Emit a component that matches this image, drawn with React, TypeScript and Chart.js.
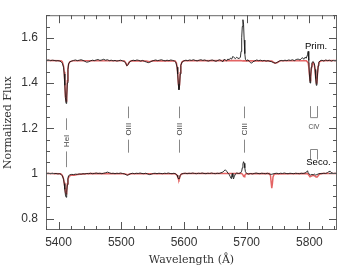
import React, { useEffect, useRef } from "react";
import { Chart, registerables } from "chart.js";
Chart.register(...registerables);

const xTickValues = [5400, 5500, 5600, 5700, 5800];
const yTickValues = [0.8, 1, 1.2, 1.4, 1.6];

const primObs: [number, number][] = [
  [5380,1.500],[5384,1.502],[5387,1.499],[5390,1.501],[5393,1.500],[5396,1.498],[5399,1.499],[5402,1.497],[5404,1.494],[5406,1.488],[5408,1.470],[5409,1.440],[5410,1.390],[5411,1.335],[5412,1.310],[5413,1.330],[5414,1.400],[5415,1.460],[5416,1.485],[5418,1.494],[5421,1.497],[5424,1.500],[5427,1.502],[5430,1.499],[5433,1.501],[5436,1.503],[5439,1.500],[5442,1.496],[5445,1.492],[5448,1.494],[5451,1.498],[5454,1.501],[5457,1.499],[5460,1.502],[5463,1.504],[5466,1.500],[5469,1.502],[5472,1.505],[5475,1.501],[5478,1.503],[5481,1.499],[5484,1.501],[5487,1.498],[5490,1.500],[5493,1.497],[5496,1.499],[5499,1.501],[5502,1.498],[5505,1.495],[5507,1.488],[5509,1.476],[5511,1.482],[5513,1.493],[5516,1.498],[5519,1.501],[5522,1.499],[5525,1.502],[5528,1.500],[5531,1.497],[5534,1.500],[5537,1.496],[5540,1.493],[5543,1.490],[5546,1.493],[5549,1.497],[5552,1.500],[5555,1.502],[5558,1.499],[5561,1.501],[5564,1.503],[5567,1.500],[5570,1.498],[5573,1.501],[5576,1.499],[5579,1.502],[5582,1.500],[5585,1.497],[5587,1.492],[5589,1.470],[5590,1.440],[5591,1.395],[5592,1.370],[5593,1.390],[5594,1.440],[5595,1.478],[5597,1.493],[5600,1.498],[5603,1.501],[5606,1.499],[5609,1.502],[5612,1.500],[5615,1.503],[5618,1.500],[5621,1.498],[5624,1.501],[5627,1.503],[5630,1.500],[5633,1.502],[5636,1.499],[5639,1.497],[5642,1.500],[5645,1.502],[5648,1.499],[5651,1.496],[5654,1.500],[5657,1.503],[5660,1.498],[5662,1.494],[5664,1.505],[5666,1.502],[5668,1.498],[5670,1.506],[5672,1.503],[5674,1.510],[5676,1.506],[5678,1.518],[5680,1.512],[5682,1.508],[5684,1.514],[5686,1.510],[5688,1.508],[5690,1.515],[5691,1.540],[5692,1.600],[5693,1.650],[5694,1.680],[5695,1.660],[5696,1.590],[5697,1.530],[5698,1.505],[5700,1.498],[5702,1.503],[5704,1.496],[5706,1.490],[5708,1.488],[5710,1.494],[5713,1.498],[5716,1.502],[5719,1.499],[5722,1.501],[5725,1.498],[5728,1.500],[5731,1.497],[5734,1.499],[5737,1.496],[5740,1.494],[5743,1.490],[5746,1.488],[5749,1.492],[5752,1.497],[5755,1.500],[5758,1.498],[5761,1.501],[5764,1.499],[5767,1.502],[5770,1.500],[5773,1.503],[5776,1.499],[5779,1.504],[5782,1.506],[5785,1.502],[5787,1.508],[5789,1.512],[5791,1.505],[5793,1.514],[5795,1.510],[5797,1.525],[5798,1.540],[5799,1.500],[5800,1.440],[5801,1.400],[5802,1.430],[5803,1.470],[5804,1.490],[5806,1.495],[5808,1.485],[5809,1.460],[5810,1.420],[5811,1.390],[5812,1.400],[5813,1.440],[5814,1.475],[5815,1.492],[5817,1.498],[5820,1.501],[5823,1.497],[5826,1.502],[5829,1.499],[5832,1.501],[5835,1.497],[5838,1.500],[5841,1.498],[5844,1.500]
];

const primModel: [number, number][] = [
  [5380,1.500],[5404,1.499],[5406,1.494],[5408,1.475],[5409,1.450],[5410,1.400],[5411,1.340],[5412,1.320],[5413,1.345],[5414,1.410],[5415,1.460],[5416,1.482],[5418,1.494],[5422,1.498],[5440,1.499],[5505,1.498],[5507,1.490],[5509,1.478],[5511,1.484],[5513,1.494],[5516,1.499],[5540,1.497],[5545,1.494],[5550,1.498],[5586,1.497],[5588,1.488],[5589,1.470],[5590,1.440],[5591,1.400],[5592,1.375],[5593,1.395],[5594,1.445],[5595,1.480],[5597,1.494],[5600,1.499],[5690,1.500],[5694,1.498],[5700,1.499],[5740,1.497],[5745,1.488],[5749,1.491],[5753,1.498],[5795,1.499],[5798,1.490],[5799,1.470],[5800,1.440],[5801,1.410],[5802,1.425],[5803,1.460],[5805,1.488],[5806,1.490],[5808,1.478],[5809,1.455],[5810,1.425],[5811,1.400],[5812,1.405],[5813,1.445],[5814,1.475],[5816,1.494],[5820,1.499],[5844,1.500]
];

const secoObs: [number, number][] = [
  [5380,1.000],[5384,1.001],[5387,0.999],[5390,1.001],[5393,0.999],[5396,1.000],[5399,0.998],[5402,0.999],[5404,0.996],[5406,0.990],[5408,0.975],[5409,0.955],[5410,0.930],[5411,0.905],[5412,0.895],[5413,0.915],[5414,0.950],[5415,0.978],[5416,0.990],[5418,0.994],[5421,0.996],[5424,0.995],[5427,0.997],[5430,0.996],[5433,0.998],[5436,0.997],[5439,0.999],[5442,0.998],[5445,1.000],[5448,0.999],[5451,1.001],[5454,0.999],[5457,1.000],[5460,1.002],[5463,1.000],[5466,1.001],[5469,0.999],[5472,1.001],[5475,1.003],[5478,1.006],[5481,1.003],[5484,1.000],[5487,1.001],[5490,0.999],[5493,1.001],[5496,1.000],[5499,1.002],[5502,1.000],[5505,0.998],[5508,0.994],[5510,0.992],[5512,0.995],[5515,0.999],[5518,1.001],[5521,0.999],[5524,1.001],[5527,1.000],[5530,1.002],[5533,1.000],[5536,0.999],[5539,1.001],[5542,0.998],[5545,0.995],[5548,0.997],[5551,1.000],[5554,1.001],[5557,0.999],[5560,1.001],[5563,1.000],[5566,0.999],[5569,1.001],[5572,1.000],[5575,1.002],[5578,1.000],[5581,0.999],[5584,1.001],[5587,0.998],[5589,0.992],[5590,0.985],[5591,0.978],[5592,0.976],[5593,0.982],[5594,0.992],[5596,0.998],[5599,1.000],[5602,1.001],[5605,0.999],[5608,1.001],[5611,1.000],[5614,1.002],[5617,1.000],[5620,0.999],[5623,1.001],[5626,1.000],[5629,1.002],[5632,1.000],[5635,0.999],[5638,1.001],[5641,1.000],[5644,1.002],[5647,1.000],[5650,0.999],[5653,1.001],[5656,1.000],[5659,1.003],[5662,1.006],[5664,1.012],[5666,1.016],[5668,1.010],[5670,1.002],[5672,0.996],[5674,0.985],[5675,0.978],[5676,0.990],[5677,1.000],[5678,0.985],[5679,0.976],[5680,0.985],[5682,0.998],[5684,1.002],[5687,1.000],[5690,1.002],[5692,1.010],[5693,1.025],[5694,1.042],[5695,1.052],[5696,1.045],[5697,1.025],[5698,1.008],[5700,1.000],[5703,0.997],[5706,1.000],[5709,0.998],[5712,1.000],[5715,1.002],[5718,1.000],[5721,0.999],[5724,1.001],[5727,1.000],[5730,0.999],[5733,1.001],[5736,0.998],[5739,0.996],[5742,0.998],[5745,1.000],[5748,1.001],[5751,0.999],[5754,1.001],[5757,1.000],[5760,1.002],[5763,1.000],[5766,0.999],[5769,1.001],[5772,1.000],[5775,0.999],[5778,1.001],[5781,1.000],[5784,0.999],[5787,1.001],[5790,1.000],[5793,1.002],[5795,1.005],[5797,1.012],[5798,1.004],[5800,0.996],[5802,0.993],[5804,0.996],[5806,0.994],[5808,0.997],[5810,0.993],[5812,0.995],[5814,0.998],[5817,1.000],[5820,0.999],[5823,1.001],[5826,1.000],[5829,1.004],[5831,1.008],[5833,1.010],[5835,1.004],[5838,1.000],[5841,1.001],[5844,1.000]
];

const secoModel: [number, number][] = [
  [5380,1.000],[5403,0.999],[5405,0.995],[5407,0.985],[5408,0.975],[5409,0.960],[5410,0.940],[5411,0.918],[5412,0.910],[5413,0.925],[5414,0.955],[5415,0.975],[5417,0.988],[5420,0.992],[5425,0.992],[5430,0.995],[5440,0.998],[5450,1.000],[5505,0.999],[5510,0.995],[5515,0.999],[5586,0.999],[5589,0.992],[5590,0.984],[5591,0.976],[5592,0.972],[5593,0.980],[5594,0.990],[5596,0.998],[5600,1.000],[5692,1.000],[5694,0.994],[5695,0.988],[5696,0.986],[5697,0.992],[5699,0.999],[5736,1.000],[5738,0.990],[5739,0.960],[5740,0.935],[5741,0.955],[5742,0.985],[5744,0.998],[5797,1.000],[5799,0.993],[5801,0.985],[5803,0.988],[5806,0.992],[5808,0.990],[5810,0.985],[5812,0.984],[5814,0.990],[5816,0.997],[5820,1.000],[5844,1.000]
];

const lineWaves = [5411.5, 5510, 5592, 5696];
const lineNames = ["HeI", "OIII", "OIII", "CIII"];
const civWaves = [5801, 5812];
const civName = "CIV";
const specNames = ["Prim.", "Seco."];

const toXY = (arr: [number, number][]) => arr.map(([x, y]) => ({ x, y }));

export default function App() {
  const ref = useRef<HTMLCanvasElement>(null);
  useEffect(() => {
    document.body.style.margin = "0";
    const deco = {
      id: "deco",
      afterDraw(chart: any) {
        const { ctx, chartArea: a, scales } = chart;
        const xs = scales.x, ys = scales.y;
        const X = (v: number) => xs.getPixelForValue(v);
        const Y = (v: number) => ys.getPixelForValue(v);
        ctx.save();
        ctx.strokeStyle = "#666";
        ctx.lineWidth = 1;
        ctx.strokeRect(a.left + 0.5, a.top + 0.5, a.right - a.left - 1, a.bottom - a.top - 1);
        ctx.strokeStyle = "#555";
        ctx.beginPath();
        for (let i = 0; i <= 23; i++) {
          const v = 5380 + i * 20;
          const px = Math.round(X(v)) + 0.5;
          if (px < a.left || px > a.right) continue;
          const len = v % 100 === 0 ? 8 : 4;
          ctx.moveTo(px, a.top); ctx.lineTo(px, a.top + len);
          ctx.moveTo(px, a.bottom); ctx.lineTo(px, a.bottom - len);
        }
        for (let i = 0; i <= 19; i++) {
          const v = 0.75 + i * 0.05;
          const py = Math.round(Y(v)) + 0.5;
          if (py < a.top || py > a.bottom) continue;
          const major = (i - 1) % 4 === 0;
          const len = major ? 8 : 4;
          ctx.moveTo(a.left, py); ctx.lineTo(a.left + len, py);
          ctx.moveTo(a.right, py); ctx.lineTo(a.right - len, py);
        }
        ctx.stroke();
        ctx.strokeStyle = "#888";
        ctx.fillStyle = "#444";
        ctx.font = "8px 'Liberation Sans'";
        ctx.textAlign = "center";
        ctx.textBaseline = "middle";
        lineWaves.forEach((w, i) => {
          const shift = i === 0 ? 0.052 : 0;
          const px = Math.round(X(w)) + 0.5;
          ctx.beginPath();
          ctx.moveTo(px, Y(1.296 - shift)); ctx.lineTo(px, Y(1.2445 - shift));
          ctx.moveTo(px, Y(1.1495 - shift)); ctx.lineTo(px, Y(1.092 - shift - (i === 0 ? 0.012 : 0)));
          ctx.stroke();
          ctx.save();
          ctx.translate(px, Y(1.196 - shift));
          ctx.rotate(-Math.PI / 2);
          ctx.fillText(lineNames[i], 0, 0);
          ctx.restore();
        });
        const c1 = Math.round(X(civWaves[0])) + 0.5;
        const c2 = Math.round(X(civWaves[1])) + 0.5;
        ctx.beginPath();
        ctx.moveTo(c1, Y(1.298)); ctx.lineTo(c1, Y(1.247)); ctx.lineTo(c2, Y(1.247)); ctx.lineTo(c2, Y(1.298));
        ctx.moveTo(c1, Y(1.062)); ctx.lineTo(c1, Y(1.106)); ctx.lineTo(c2, Y(1.106)); ctx.lineTo(c2, Y(1.062));
        ctx.stroke();
        ctx.font = "6.5px 'Liberation Sans'";
        ctx.fillText(civName, (c1 + c2) / 2, Y(1.206));
        ctx.fillStyle = "#000";
        ctx.font = "9.5px 'Liberation Sans'";
        ctx.textAlign = "left";
        ctx.fillText(specNames[0], X(5793), Y(1.562));
        ctx.fillText(specNames[1], X(5795), Y(1.05));
        ctx.restore();
      },
    };
    const black = "#1a1a1a";
    const red = "rgb(228,100,100)";
    const chart = new Chart(ref.current!, {
      type: "scatter",
      data: {
        datasets: [
          { data: toXY(primObs), borderColor: black, borderWidth: 0.9, showLine: true, pointRadius: 0, order: 0 },
          { data: toXY(secoObs), borderColor: black, borderWidth: 0.9, showLine: true, pointRadius: 0, order: 0 },
          { data: toXY(primModel), borderColor: red, borderWidth: 1.5, showLine: true, pointRadius: 0, order: 1 },
          { data: toXY(secoModel), borderColor: red, borderWidth: 1.5, showLine: true, pointRadius: 0, order: 1 },
        ],
      },
      options: {
        animation: false,
        responsive: false,
        layout: { padding: { top: 9, right: 7, left: 0, bottom: 0 } },
        plugins: { legend: { display: false }, tooltip: { enabled: false } },
        scales: {
          x: {
            type: "linear",
            min: 5380,
            max: 5844,
            grid: { display: false, drawTicks: false },
            border: { display: false },
            afterBuildTicks: (s: any) => { s.ticks = xTickValues.map((v) => ({ value: v })); },
            afterFit: (s: any) => { s.height = 40; },
            ticks: { padding: 5, color: "#333", font: { family: "'Liberation Sans'", size: 12 }, callback: (v: any) => String(v), maxRotation: 0, autoSkip: false },
            title: { display: true, text: "Wavelength (Å)", color: "#333", font: { family: "'DejaVu Serif'", size: 11 }, padding: { top: 0, bottom: 3 } },
          },
          y: {
            type: "linear",
            min: 0.75,
            max: 1.70,
            grid: { display: false, drawTicks: false },
            border: { display: false },
            afterBuildTicks: (s: any) => { s.ticks = yTickValues.map((v) => ({ value: v })); },
            afterFit: (s: any) => { s.width = 46; },
            ticks: { padding: 8, color: "#333", font: { family: "'Liberation Sans'", size: 12 }, callback: (v: any) => String(v), autoSkip: false },
            title: { display: true, text: "Normalized Flux", color: "#333", font: { family: "'DejaVu Serif'", size: 11 }, padding: { top: 2, bottom: 0 } },
          },
        },
      },
      plugins: [deco],
    });
    return () => chart.destroy();
  }, []);
  return <canvas ref={ref} width={344} height={270} />;
}
